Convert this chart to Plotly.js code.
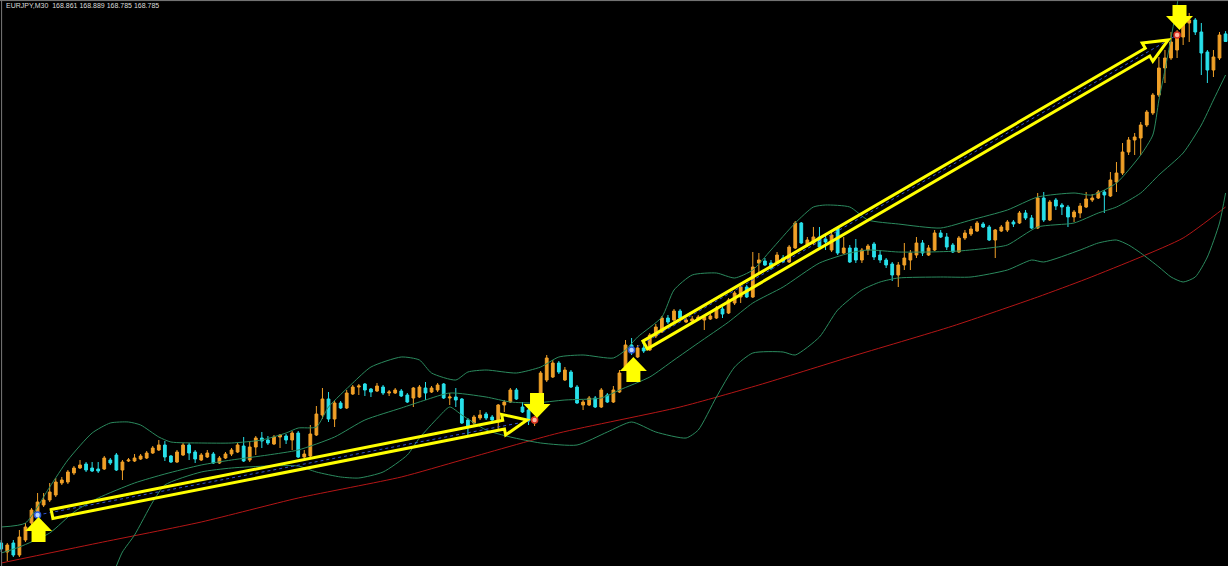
<!DOCTYPE html>
<html><head><meta charset="utf-8">
<script src="https://cdn.plot.ly/plotly-3.0.1.min.js"></script>
<style>html,body{margin:0;padding:0;background:#000;overflow:hidden}#chart{width:1228px;height:566px}</style>
</head><body><div id="chart"></div>
<script>
const symbolTitle = "EURJPY,M30";
const lastQuote = ["168.861", "168.889", "168.785", "168.785"];

const open = [
163.77,163.68,163.77,163.65,163.80,163.97,164.07,164.15,164.20,164.25,
164.37,164.38,164.47,164.52,164.56,164.52,164.51,164.51,164.60,164.65,
164.50,164.59,164.59,164.61,164.62,164.67,164.70,164.75,164.64,164.58,
164.65,164.75,164.68,164.60,164.63,164.66,164.57,164.62,164.66,164.68,
164.74,164.60,164.73,164.82,164.80,164.76,164.83,164.84,164.80,164.87,
164.63,164.64,164.85,165.05,165.21,165.01,165.17,165.12,165.26,165.33,
165.36,165.31,165.29,165.33,165.27,165.27,165.29,165.25,165.22,165.23,
165.32,165.28,165.30,165.36,165.22,165.23,165.21,165.00,164.97,165.02,
165.06,165.03,164.98,165.15,165.18,165.30,165.13,165.10,164.97,165.27,
165.40,165.43,165.57,165.40,165.48,165.33,165.15,165.15,165.22,165.13,
165.25,165.18,165.28,165.53,165.75,165.63,165.72,165.70,165.84,165.88,
166.02,166.00,166.09,165.98,165.99,166.01,166.00,166.01,166.02,166.11,
166.07,166.17,166.23,166.33,166.23,166.57,166.59,166.57,166.58,166.62,
166.58,166.72,166.97,166.75,166.77,166.83,166.81,166.70,166.92,166.67,
166.72,166.72,166.60,166.70,166.76,166.65,166.60,166.56,166.45,166.55,
166.60,166.65,166.77,166.65,166.70,166.87,166.83,166.75,166.68,166.82,
166.86,166.89,166.96,166.93,166.80,166.89,166.90,166.98,166.97,167.07,
167.02,166.92,167.22,167.00,167.20,167.15,167.13,167.03,167.07,167.13,
167.20,167.22,167.28,167.24,167.38,167.47,167.68,167.80,167.82,167.95,
168.07,168.25,168.52,168.62,168.70,168.83,168.97,169.00,168.88,168.68,
168.50,168.62,168.861];
const high = [
163.80,163.77,163.80,163.90,163.97,164.12,164.27,164.27,164.37,164.42,
164.43,164.50,164.54,164.60,164.58,164.58,164.58,164.64,164.62,164.67,
164.60,164.62,164.66,164.66,164.69,164.74,164.80,164.79,164.65,164.70,
164.77,164.77,164.70,164.67,164.70,164.68,164.64,164.68,164.72,164.77,
164.83,164.78,164.84,164.88,164.84,164.85,164.86,164.86,164.89,164.89,
164.70,164.95,165.14,165.32,165.28,165.20,165.19,165.30,165.35,165.36,
165.37,165.32,165.37,165.35,165.30,165.32,165.31,165.27,165.33,165.35,
165.38,165.34,165.37,165.37,165.27,165.32,165.22,165.02,165.05,165.10,
165.08,165.05,165.16,165.20,165.32,165.32,165.18,165.12,165.04,165.49,
165.65,165.60,165.59,165.53,165.50,165.35,165.20,165.24,165.24,165.32,
165.27,165.34,165.50,165.80,165.82,165.75,165.76,165.87,165.96,166.04,
166.05,166.11,166.11,166.02,166.04,166.05,166.05,166.06,166.14,166.13,
166.22,166.29,166.35,166.35,166.68,166.67,166.62,166.60,166.68,166.65,
166.75,166.99,166.98,166.83,166.93,166.93,166.87,166.88,166.94,166.83,
166.75,166.81,166.72,166.76,166.78,166.70,166.62,166.58,166.58,166.77,
166.70,166.83,166.80,166.75,166.90,166.90,166.87,166.77,166.84,166.90,
166.94,166.99,166.98,166.95,166.91,166.95,167.00,167.00,167.09,167.10,
167.05,167.27,167.28,167.20,167.22,167.17,167.15,167.10,167.17,167.28,
167.26,167.30,167.30,167.48,167.58,167.77,167.83,167.87,167.98,168.10,
168.27,168.63,168.70,168.88,168.90,169.00,169.07,169.02,168.97,168.70,
168.70,168.88,168.889];
const low = [
163.68,163.59,163.63,163.63,163.78,163.94,164.05,164.13,164.18,164.23,
164.35,164.36,164.45,164.51,164.48,164.48,164.47,164.50,164.55,164.49,
164.40,164.58,164.58,164.60,164.61,164.66,164.69,164.59,164.57,164.57,
164.64,164.60,164.57,164.59,164.62,164.56,164.56,164.61,164.64,164.67,
164.58,164.58,164.65,164.72,164.75,164.75,164.72,164.76,164.70,164.62,
164.62,164.62,164.84,165.01,164.98,164.93,165.11,165.11,165.25,165.25,
165.24,165.23,165.28,165.25,165.24,165.26,165.23,165.17,165.13,165.22,
165.20,165.27,165.28,165.21,165.15,165.13,164.96,164.85,164.95,165.00,
165.00,164.99,164.90,165.08,165.17,165.20,165.07,164.95,164.94,165.15,
165.38,165.42,165.46,165.39,165.32,165.16,165.10,165.14,165.12,165.12,
165.17,165.17,165.27,165.50,165.65,165.62,165.67,165.69,165.82,165.87,
165.96,165.98,166.00,165.97,165.97,166.00,165.90,166.00,166.01,166.02,
166.06,166.15,166.17,166.22,166.22,166.47,166.54,166.50,166.57,166.57,
166.57,166.71,166.76,166.73,166.75,166.70,166.70,166.68,166.65,166.66,
166.57,166.57,166.57,166.65,166.60,166.57,166.52,166.39,166.33,166.50,
166.50,166.62,166.64,166.64,166.69,166.82,166.70,166.67,166.67,166.80,
166.84,166.88,166.92,166.79,166.62,166.88,166.88,166.93,166.96,167.00,
166.91,166.91,166.98,166.99,167.10,167.05,166.93,166.98,167.02,167.12,
167.18,167.21,167.07,167.23,167.28,167.45,167.65,167.65,167.65,167.93,
168.05,168.23,168.37,168.60,168.62,168.75,168.78,168.85,168.45,168.37,
168.43,168.60,168.785];
const close = [
163.71,163.75,163.65,163.83,163.93,164.10,164.18,164.20,164.28,164.38,
164.40,164.48,164.52,164.55,164.50,164.49,164.49,164.62,164.57,164.50,
164.58,164.60,164.62,164.64,164.67,164.72,164.75,164.63,164.58,164.68,
164.75,164.67,164.61,164.65,164.67,164.57,164.62,164.66,164.70,164.75,
164.59,164.73,164.82,164.79,164.77,164.83,164.85,164.80,164.87,164.63,
164.66,164.86,165.06,165.21,165.01,165.17,165.12,165.27,165.33,165.34,
165.30,165.28,165.34,165.27,165.28,165.30,165.24,165.18,165.32,165.33,
165.27,165.32,165.35,165.22,165.23,165.20,164.97,164.94,165.03,165.05,
165.02,165.00,165.15,165.18,165.30,165.21,165.08,164.99,164.99,165.47,
165.62,165.57,165.48,165.50,165.33,165.17,165.18,165.22,165.13,165.30,
165.18,165.30,165.47,165.75,165.68,165.72,165.69,165.85,165.93,166.02,
165.98,166.09,166.02,166.00,166.01,166.03,166.03,166.04,166.12,166.06,
166.20,166.27,166.33,166.23,166.53,166.60,166.55,166.52,166.65,166.58,
166.73,166.97,166.77,166.80,166.83,166.73,166.78,166.85,166.67,166.72,
166.58,166.60,166.70,166.74,166.63,166.60,166.55,166.45,166.55,166.62,
166.67,166.77,166.67,166.72,166.87,166.83,166.73,166.68,166.82,166.87,
166.91,166.97,166.93,166.80,166.90,166.93,166.98,166.96,167.07,167.02,
166.92,167.22,167.00,167.18,167.14,167.13,167.03,167.08,167.14,167.21,
167.22,167.28,167.25,167.40,167.47,167.68,167.80,167.83,167.95,168.08,
168.25,168.52,168.62,168.78,168.82,168.97,169.00,168.88,168.67,168.50,
168.63,168.85,168.785];

const bbUpperBar = [0,4,8,11,15,18,21,23,26,28,33,38,43,47,49,52,54,58,61,66,69,71,75,77,80,85,89,92,96,101,103,105,109,111,114,118,121,124,127,131,134,136,140,143,148,155,160,166,171,177,180,184,188,190,191,192,193,194,195,197,202];
const bbUpper = [163.93,163.97,164.33,164.60,164.87,164.97,164.98,164.95,164.83,164.78,164.77,164.77,164.80,164.87,164.92,164.93,165.13,165.37,165.53,165.63,165.60,165.47,165.40,165.48,165.50,165.47,165.53,165.63,165.65,165.62,165.70,165.83,166.03,166.30,166.45,166.47,166.42,166.50,166.70,166.97,167.13,167.15,167.13,167.00,166.96,166.92,167.00,167.10,167.23,167.27,167.25,167.37,167.65,167.85,168.20,168.50,168.82,169.15,169.50,169.75,169.85];
const bbMiddleBar = [0,3,8,12,16,22,27,33,38,44,49,55,60,66,70,74,80,84,88,93,99,102,107,111,115,120,124,129,135,140,143,148,153,158,163,166,171,177,181,184,188,191,195,198,200,202];
const bbMiddle = [163.67,163.73,163.87,164.08,164.22,164.37,164.46,164.55,164.60,164.65,164.70,164.83,165.00,165.12,165.20,165.27,165.23,165.18,165.17,165.20,165.22,165.30,165.43,165.60,165.77,165.98,166.17,166.33,166.57,166.67,166.70,166.68,166.68,166.69,166.72,166.75,166.93,166.97,167.07,167.13,167.27,167.45,167.67,167.95,168.20,168.45];
const bbLowerBar = [19,20,22,25,27,33,38,44,49,52,56,59,63,67,69,72,74,76,80,84,89,95,100,104,108,113,115,118,121,124,129,131,135,138,142,145,148,155,160,166,170,172,178,181,184,186,188,191,193,195,197,199,201,202];
const bbLower = [163.54,163.68,163.85,164.18,164.35,164.48,164.52,164.54,164.54,164.48,164.43,164.42,164.48,164.65,164.82,165.02,165.13,165.05,164.90,164.83,164.77,164.75,164.88,164.98,164.88,164.82,164.90,165.23,165.53,165.67,165.68,165.65,165.83,166.10,166.30,166.38,166.42,166.43,166.43,166.50,166.60,166.58,166.70,166.77,166.80,166.75,166.67,166.53,166.43,166.38,166.43,166.63,166.97,167.27];
// moving average (red)
const maBar = [0,16,33,49,66,76,92,112,125,140,157,171,179,188,195,202];
const maValue = [163.57,163.77,163.98,164.22,164.43,164.60,164.87,165.13,165.35,165.63,165.94,166.23,166.41,166.63,166.82,167.13];

// trade signals
const signalBar = [6, 88, 104, 194];
const signalPrice = [164.05, 165.00, 165.70, 168.85];
const signalSide = ["buy", "sell", "buy", "sell"];
// block arrows (tip position)
const blockArrowBar = [6.16, 88.4, 104.3, 194.4];
const blockArrowPrice = [164.03, 165.02, 165.63, 168.90];
const blockArrowDir = ["up", "down", "up", "down"];
// long outlined arrows
const longArrowTailBar = [8.38, 106.24];
const longArrowTailPrice = [164.06, 165.75];
const longArrowTipBar = [86.77, 192.54];
const longArrowTipPrice = [165.00, 168.80];

const bars = open.map((_, i) => i);
const GREEN = '#2b8a5e', RED = '#b41616', UP = '#f0a028', DN = '#28e0ea', YEL = '#ffff00';

const lineTrace = (x, y, color) => ({type:'scatter', mode:'lines', x, y, hoverinfo:'skip',
  line:{color, width:1, shape:'spline', smoothing:0.6}});

const traces = [
  lineTrace(maBar, maValue, RED),
  lineTrace(bbUpperBar, bbUpper, GREEN),
  lineTrace(bbMiddleBar, bbMiddle, GREEN),
  lineTrace(bbLowerBar, bbLower, GREEN),
  {type:'candlestick', x:bars, open, high, low, close, hoverinfo:'skip', whiskerwidth:0,
   increasing:{line:{color:UP, width:1}, fillcolor:UP},
   decreasing:{line:{color:DN, width:1}, fillcolor:DN}},
];
// dotted trade lines buy->sell
for (let k = 0; k + 1 < signalBar.length; k += 2) {
  traces.push({type:'scatter', mode:'lines', x:[signalBar[k], signalBar[k+1]], y:[signalPrice[k], signalPrice[k+1]],
    hoverinfo:'skip', line:{color:'#3355cc', width:1, dash:'dot'}});
}
traces.push({type:'scatter', mode:'markers', x:signalBar, y:signalPrice, hoverinfo:'skip',
  marker:{symbol:'circle', size:6,
    color:signalSide.map(s => s === 'buy' ? '#b8d4ff' : '#ffb4a0'),
    line:{width:1.5, color:signalSide.map(s => s === 'buy' ? '#2a5ad8' : '#d83020')}}});

const layout = {
  width:1228, height:566,
  margin:{l:0, r:0, t:0, b:0},
  paper_bgcolor:'#000', plot_bgcolor:'#000',
  showlegend:false, boxgap:0.35,
  xaxis:{range:[-0.2, 202.4], visible:false, showgrid:false, zeroline:false, rangeslider:{visible:false}, fixedrange:true},
  yaxis:{range:[163.54, 169.20], visible:false, showgrid:false, zeroline:false, fixedrange:true},
  annotations:[{xref:'paper', yref:'paper', x:0, y:1, xanchor:'left', yanchor:'top', xshift:4, yshift:0,
    showarrow:false, align:'left',
    text: symbolTitle + '\u00a0\u00a0' + lastQuote.join(' '),
    font:{family:'Liberation Sans, Arial, sans-serif', size:7, color:'#dcdcdc'}}],
  shapes:[]
};
const frameShapes = [
  {type:'line', xref:'paper', yref:'paper', x0:0.0013, x1:0.0013, y0:0, y1:1, line:{color:'#7a7a7a', width:1}, layer:'above'},
  {type:'line', xref:'paper', yref:'paper', x0:0, x1:1, y0:0.999, y1:0.999, line:{color:'#7a7a7a', width:1}, layer:'above'}
];
layout.shapes = frameShapes;

const gd = document.getElementById('chart');
Plotly.newPlot(gd, traces, layout, {displayModeBar:false, staticPlot:true}).then(() => {
  const xa = gd._fullLayout.xaxis, ya = gd._fullLayout.yaxis;
  const toPx = (b, p) => [xa.l2p(b), ya.l2p(p)];
  const toData = (pt) => [xa.p2l(pt[0]), ya.p2l(pt[1])];
  const pathOf = pts => 'M' + pts.map(p => { const d = toData(p); return d[0].toFixed(4) + ',' + d[1].toFixed(4); }).join(' L') + ' Z';
  const shapes = frameShapes.slice();
  // long outlined arrows
  for (let k = 0; k < longArrowTailBar.length; k++) {
    const t = toPx(longArrowTailBar[k], longArrowTailPrice[k]);
    const h = toPx(longArrowTipBar[k], longArrowTipPrice[k]);
    const dx = h[0] - t[0], dy = h[1] - t[1], L = Math.hypot(dx, dy);
    const ux = dx / L, uy = dy / L, nx = -uy, ny = ux;
    const sw = 4.5, hw = 10.5, hl = 24;
    const pt = (s, w) => [t[0] + ux * s + nx * w, t[1] + uy * s + ny * w];
    const pts = [pt(0, -sw), pt(L - hl, -sw), pt(L - hl, -hw), pt(L, 0), pt(L - hl, hw), pt(L - hl, sw), pt(0, sw)];
    shapes.push({type:'path', xref:'x', yref:'y', path:pathOf(pts), layer:'above',
      line:{color:YEL, width:3}, fillcolor:'rgba(0,0,0,0)'});
  }
  // block arrows
  for (let k = 0; k < blockArrowBar.length; k++) {
    const tip = toPx(blockArrowBar[k], blockArrowPrice[k]);
    const s = blockArrowDir[k] === 'up' ? 1 : -1;
    const hl = 14, hw = 13.5, sw = 7, tot = 25;
    const P = (x, y) => [tip[0] + x, tip[1] + s * y];
    const pts = [P(0, 0), P(hw, hl), P(sw, hl), P(sw, tot), P(-sw, tot), P(-sw, hl), P(-hw, hl)];
    shapes.push({type:'path', xref:'x', yref:'y', path:pathOf(pts), layer:'above',
      line:{width:0, color:YEL}, fillcolor:YEL});
  }
  return Plotly.relayout(gd, {shapes});
});
</script>
</body></html>
